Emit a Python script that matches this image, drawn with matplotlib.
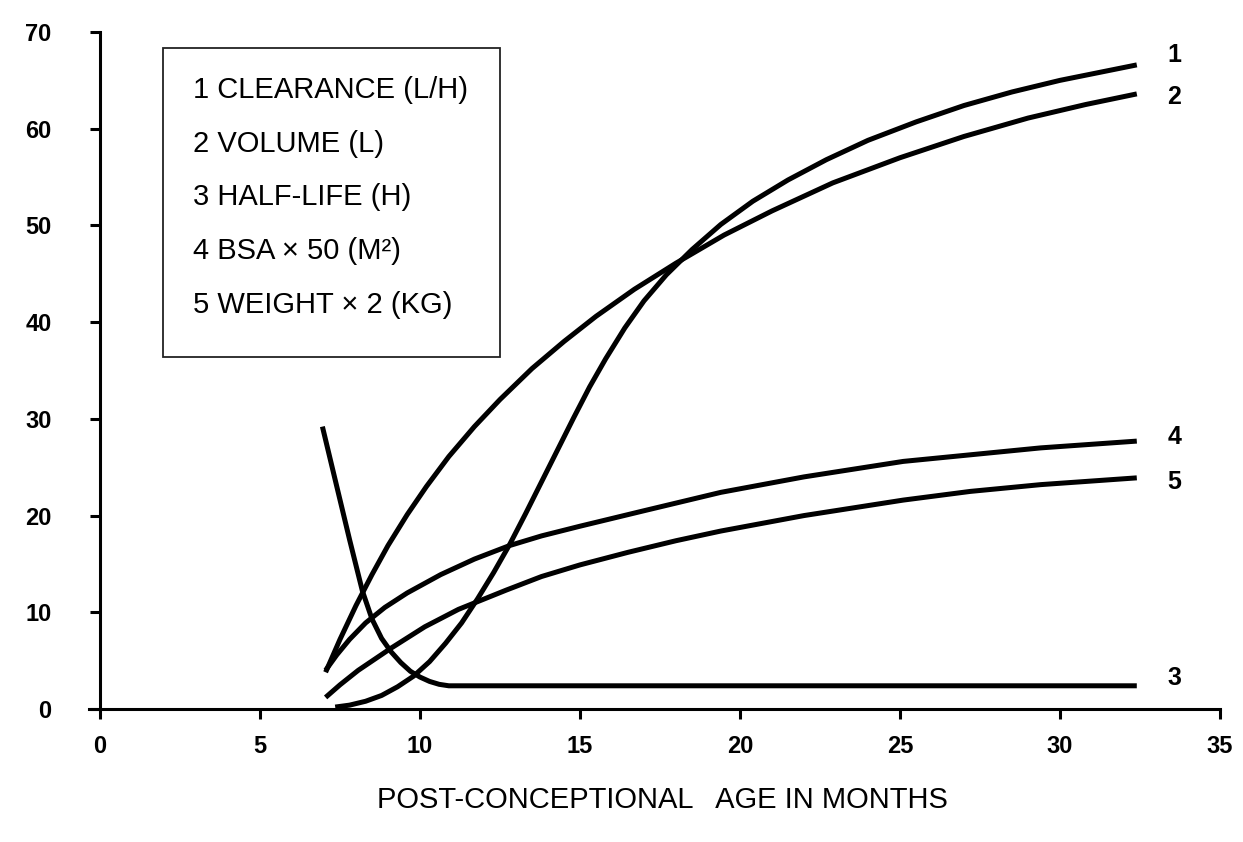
import matplotlib
matplotlib.use("Agg")
import matplotlib.pyplot as plt
from matplotlib.patches import Rectangle

# values (post-conceptional age in months)
clearance_x = [7.35, 7.8, 8.3, 8.8, 9.3, 9.8, 10.3, 10.8, 11.3, 11.8, 12.3, 12.8, 13.3, 13.8,
               14.3, 14.8, 15.3, 15.8, 16.4, 17.0, 17.7, 18.5, 19.4, 20.4, 21.5, 22.7, 24.0,
               25.5, 27.0, 28.5, 30.0, 31.2, 32.4]
clearance_y = [0.2, 0.4, 0.8, 1.4, 2.3, 3.4, 4.9, 6.8, 8.9, 11.4, 14.1, 17.0, 20.2, 23.5,
               26.8, 30.1, 33.3, 36.2, 39.4, 42.2, 44.9, 47.5, 50.1, 52.5, 54.7, 56.8, 58.8,
               60.7, 62.4, 63.8, 65.0, 65.8, 66.6]

volume_x = [7.05, 7.5, 8.0, 8.5, 9.0, 9.6, 10.2, 10.9, 11.7, 12.5, 13.5, 14.5, 15.5, 16.7,
            18.0, 19.5, 21.0, 22.9, 25.0, 27.0, 29.0, 30.8, 32.4]
volume_y = [3.8, 7.2, 10.7, 13.9, 16.9, 20.1, 23.0, 26.1, 29.2, 32.0, 35.2, 38.0, 40.6, 43.4,
            46.1, 49.0, 51.5, 54.4, 57.0, 59.2, 61.1, 62.5, 63.6]

halflife_x = [6.95, 7.4, 7.8, 8.2, 8.5, 8.8, 9.1, 9.4, 9.7, 10.0, 10.3, 10.6, 10.9, 32.4]
halflife_y = [29.2, 23.0, 17.5, 12.2, 9.3, 7.3, 5.9, 4.8, 3.9, 3.3, 2.85, 2.55, 2.4, 2.4]

bsa_x = [7.05, 7.4, 7.8, 8.3, 8.9, 9.6, 10.65, 11.7, 12.8, 13.8, 15.0, 17.0, 19.4, 22.0,
         25.1, 29.4, 32.4]
bsa_y = [4.0, 5.6, 7.2, 8.9, 10.5, 12.0, 13.9, 15.5, 16.9, 17.9, 18.9, 20.5, 22.4, 24.0,
         25.6, 27.0, 27.7]

weight_x = [7.05, 7.5, 8.07, 9.1, 10.15, 11.2, 12.7, 13.8, 15.0, 16.5, 18.0, 19.4, 22.0,
            25.1, 27.2, 29.4, 32.4]
weight_y = [1.2, 2.5, 4.0, 6.3, 8.5, 10.3, 12.3, 13.7, 14.9, 16.2, 17.4, 18.4, 20.0,
            21.6, 22.5, 23.2, 23.9]

curve_labels = ["1", "2", "3", "4", "5"]
label_dy = [1.0, -0.3, 0.8, 0.4, -0.4]
legend_lines = ["1 CLEARANCE (L/H)", "2 VOLUME (L)", "3 HALF-LIFE (H)",
                "4 BSA \u00d7 50 (M\u00b2)", "5 WEIGHT \u00d7 2 (KG)"]
xticks = [0, 5, 10, 15, 20, 25, 30, 35]
yticks = [0, 10, 20, 30, 40, 50, 60, 70]

fonts = ["Liberation Sans", "DejaVu Sans"]

W, H = 1243, 842
fig = plt.figure(figsize=(W / 100, H / 100), dpi=100)
ax = fig.add_axes([88.8 / W, 1 - 709 / H, (1220 - 88.8) / W, (709 - 32) / H])

series = [(clearance_x, clearance_y), (volume_x, volume_y), (halflife_x, halflife_y),
          (bsa_x, bsa_y), (weight_x, weight_y)]
for (xs, ys), lab, dy in zip(series, curve_labels, label_dy):
    ax.plot(xs, ys, color="black", lw=3.6, solid_capstyle="butt", solid_joinstyle="round")
    ax.text(xs[-1] + 0.95, ys[-1] + dy, lab, fontsize=18, fontweight="bold",
            family=fonts, va="center", ha="left")

ax.set_xlim(-0.35, 35)
ax.set_ylim(0, 70)
ax.spines["top"].set_visible(False)
ax.spines["right"].set_visible(False)
ax.spines["left"].set_position(("data", 0))
for s in ("left", "bottom"):
    ax.spines[s].set_linewidth(2.2)
ax.set_xticks(xticks)
ax.set_yticks(yticks)
ax.tick_params(direction="out", length=7, width=2.2, colors="black")
ax.tick_params(axis="x", pad=12)
ax.tick_params(axis="y", pad=28)
for t in ax.get_xticklabels() + ax.get_yticklabels():
    t.set_fontsize(17)
    t.set_fontweight("bold")
    t.set_family(fonts)

fig.text(662 / W, 1 - 800 / H, "POST-CONCEPTIONAL   AGE IN MONTHS", fontsize=21,
         family=fonts, ha="center", va="center")

# legend box drawn by hand, like the original figure
fig.patches.append(Rectangle((163 / W, 1 - 357 / H), (500 - 163) / W, (357 - 48) / H,
                             transform=fig.transFigure, fill=False, lw=1.3, ec="#222222"))
for i, line in enumerate(legend_lines):
    fig.text(193 / W, 1 - (90 + 53.7 * i) / H, line, fontsize=21, family=fonts,
             ha="left", va="center")

fig.savefig("out.png", dpi=100)
